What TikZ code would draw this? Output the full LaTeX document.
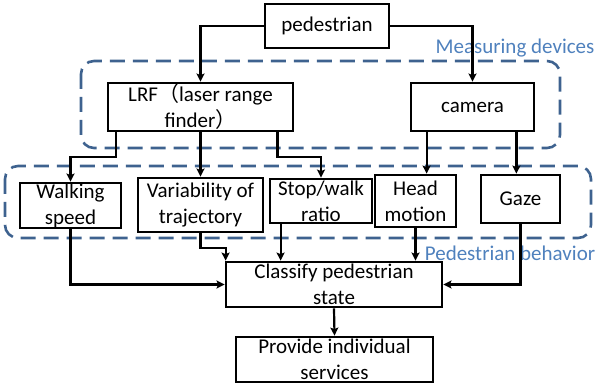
\documentclass[tikz,border=0pt]{standalone}
\usepackage{fontspec}
\setmainfont{Carlito}
\newfontfamily\cjk{Noto Sans CJK SC}
\usepackage{tikz}
\usetikzlibrary{arrows.meta, positioning, calc}
\usepackage{xcolor}
\definecolor{labelblue}{RGB}{79,129,189}
\definecolor{dashblue}{RGB}{62,98,143}

\begin{document}
\begin{tikzpicture}[x=1pt, y=-1pt,
  box/.style={draw, line width=2.8pt, align=center, inner sep=0pt,
    font=\fontsize{21}{26}\selectfont},
  conn/.style={line width=2.2pt, -{Stealth[length=8pt, width=8pt, inset=1.5pt]}},
  group/.style={dashblue, line width=2.6pt, dash pattern=on 15pt off 8pt, rounded corners=13pt},
  grouplabel/.style={labelblue, font=\fontsize{21}{26}\selectfont}]
  \useasboundingbox (0,0) rectangle (597,387);
  % dashed groups
  \draw[group] (81,61) rectangle (560,148);
  \node[grouplabel] (mlabel) at (515,48) {Measuring devices};
  \draw[group] (5,166) rectangle (591,238);
  \node[grouplabel] (plabel) at (510,253) {Pedestrian behavior};
  % boxes
  \node[box, minimum width=124, minimum height=44] (ped) at (327,26) {pedestrian};
  \node[box, minimum width=185, minimum height=48] (lrf) at (200.5,107) {LRF{\cjk （}laser range\\finder{\cjk ）}};
  \node[box, minimum width=123, minimum height=48] (cam) at (472.5,107) {camera};
  \node[box, minimum width=101, minimum height=45] (walk) at (70.5,205.5) {Walking\\speed};
  \node[box, minimum width=125, minimum height=54] (var) at (200.5,205) {Variability of\\trajectory};
  \node[box, minimum width=102, minimum height=44] (stop) at (321,201) {Stop/walk\\ratio};
  \node[box, minimum width=81, minimum height=52] (head) at (415.5,201) {Head\\motion};
  \node[box, minimum width=79, minimum height=48] (gaze) at (520.5,199) {Gaze};
  \node[box, minimum width=216, minimum height=45] (classify) at (334,284.5) {Classify pedestrian\\state};
  \node[box, minimum width=197, minimum height=45] (provide) at (334.5,359.5) {Provide individual\\services};
  % tap points off the box centres
  \coordinate (lrfL) at ([xshift=9]lrf.south west);
  \coordinate (lrfR) at ([xshift=-17]lrf.south east);
  \coordinate (camL) at ([xshift=17]cam.south west);
  \coordinate (camR) at ([xshift=-19]cam.south east);
  \coordinate (stopB) at ([xshift=12]stop.south west);
  \coordinate (clsL) at ([xshift=1]classify.north west);
  % pedestrian to devices
  \draw[conn] (ped.west) -| (lrf.north);
  \draw[conn] (ped.east) -| (cam.north);
  % devices to behaviour
  \draw[conn] (lrfL) -- ++(0,25) -| (walk.north);
  \draw[conn] (lrf.south) -- (var.north);
  \draw[conn] (lrfR) -- ++(0,25) -| (stop.north);
  \draw[conn] (camL) -- (camL |- head.north);
  \draw[conn] (camR) -- (camR |- gaze.north);
  % behaviour to classifier
  \draw[conn] (walk.south) |- (classify.west);
  \draw[conn] (var.south) -- ++(0,15) -| (clsL);
  \draw[conn] (stopB) -- (stopB |- classify.north);
  \draw[conn] (head.south) -- (head.south |- classify.north);
  \draw[conn] (gaze.south) |- (classify.east);
  \draw[conn] (classify.south) -- (provide.north);
\end{tikzpicture}
\end{document}
